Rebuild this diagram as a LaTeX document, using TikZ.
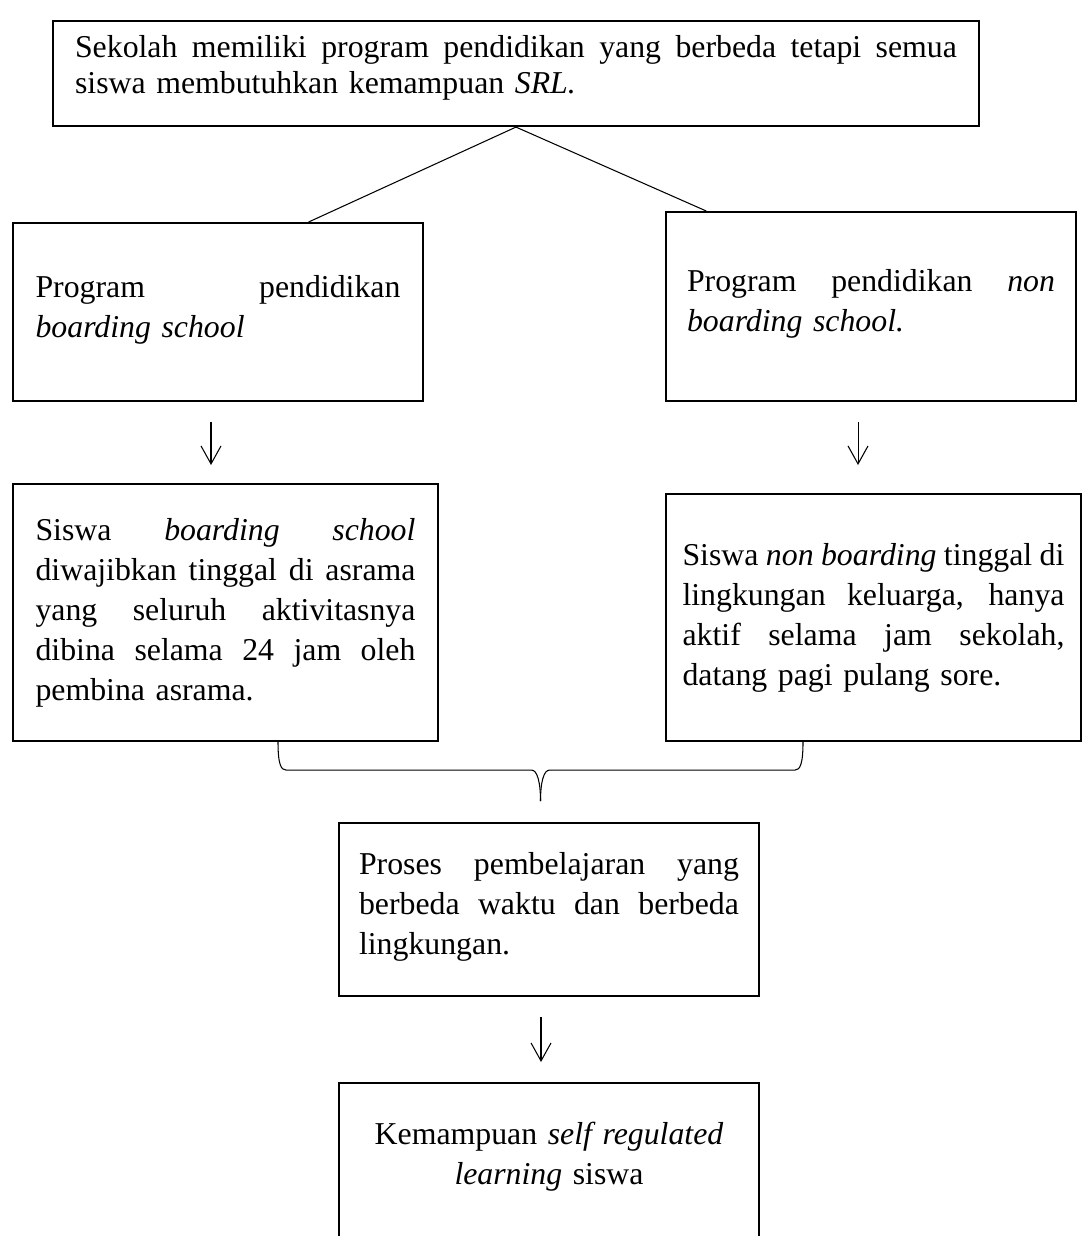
\documentclass[tikz,border=0pt]{standalone}
\usepackage{fontspec}
\setmainfont{Liberation Serif}
\usetikzlibrary{positioning,calc,arrows.meta}

\newcommand{\jl}[1]{{\spaceskip=0pt\xspaceskip=0pt\makebox[\linewidth][s]{#1}}}

\begin{document}
\begin{tikzpicture}[x=0.02cm, y=-0.02cm,
  Bx/.style={draw, line width=1.2pt, inner sep=0pt, anchor=north west,
    align=left, font=\fontsize{18.1}{22.8}\selectfont},
  Ln/.style={line width=0.6pt},
  Ar/.style={line width=0.6pt, -{Straight Barb[length=3.6mm,width=4mm]}}]
\clip (0,0) rectangle (1084,1236);

\node[Bx, minimum width=18.52cm, minimum height=2.1cm, text width=17.64cm,
  font=\fontsize{18.1}{20.5}\selectfont] at (52,20) (skl)
  {\jl{Sekolah memiliki program pendidikan yang berbeda tetapi semua}\\
   siswa membutuhkan kemampuan \textit{SRL.}\\[-0.35cm]\mbox{}};

\node[Bx, minimum width=8.2cm, minimum height=3.56cm, text width=7.3cm] at (12,222) (bs)
  {\jl{Program pendidikan}\\ \textit{boarding school}\\[-0.56cm]\mbox{}};
\node[Bx, minimum width=8.2cm, minimum height=3.78cm, text width=7.36cm] at (665,211) (nbs)
  {\jl{Program pendidikan \textit{non}}\\ \textit{boarding school.}\\[-0.56cm]\mbox{}};

\node[Bx, minimum width=8.5cm, minimum height=5.14cm, text width=7.6cm] at (12,483) (sb)
  {\jl{Siswa \textit{boarding} \textit{school}}\\
   \jl{diwajibkan tinggal di asrama}\\
   \jl{yang seluruh aktivitasnya}\\
   \jl{dibina selama 24 jam oleh}\\
   pembina asrama.};
\node[Bx, minimum width=8.3cm, minimum height=4.94cm, text width=7.64cm] at (665,493) (snb)
  {\jl{Siswa \textit{non boarding} tinggal di}\\
   \jl{lingkungan keluarga, hanya}\\
   \jl{aktif selama jam sekolah,}\\
   datang pagi pulang sore.};

\node[Bx, minimum width=8.4cm, minimum height=3.46cm, text width=7.6cm] at (338,822) (pp)
  {\jl{Proses pembelajaran yang}\\
   \jl{berbeda waktu dan berbeda}\\
   lingkungan.\\[-0.56cm]\mbox{}};
\node[Bx, align=center, minimum width=8.4cm, minimum height=3.6cm, text width=7.6cm] at (338,1082) (srl)
  {Kemampuan \textit{self regulated}\\ \textit{learning} siswa\\ \mbox{}};

\draw[Ln] (skl.south) -- ($(bs.north west)!0.72!(bs.north east)$);
\draw[Ln] (skl.south) -- ($(nbs.north west)!0.1!(nbs.north east)$);

\coordinate (a1) at ($(bs.south)+(-7,0)$);
\coordinate (a2) at ($(nbs.south)+(-13,0)$);
\coordinate (a3) at ($(pp.south)+(-8,0)$);
\draw[Ar, shorten <=0.4cm, shorten >=0.36cm] (a1) -- (a1 |- sb.north);
\draw[Ar, shorten <=0.4cm, shorten >=0.56cm] (a2) -- (a2 |- snb.north);
\draw[Ar, shorten <=0.4cm, shorten >=0.4cm] (a3) -- (a3 |- srl.north);

\coordinate (bl) at ($(sb.south west)+(266,0)$);
\coordinate (br) at ($(snb.south west)+(138,0)$);
\coordinate (tip) at ($(bl)!0.5!(br)+(0,59)$);
\draw[Ln] (bl) .. controls +(0,22) and +(-5,0) .. ++(8,28)
  -- ($(tip)+(-9,-31)$) .. controls +(6,0) and +(0,-18) .. (tip);
\draw[Ln] (br) .. controls +(0,22) and +(5,0) .. ++(-8,28)
  -- ($(tip)+(9,-31)$) .. controls +(-6,0) and +(0,-18) .. (tip);

\end{tikzpicture}
\end{document}
